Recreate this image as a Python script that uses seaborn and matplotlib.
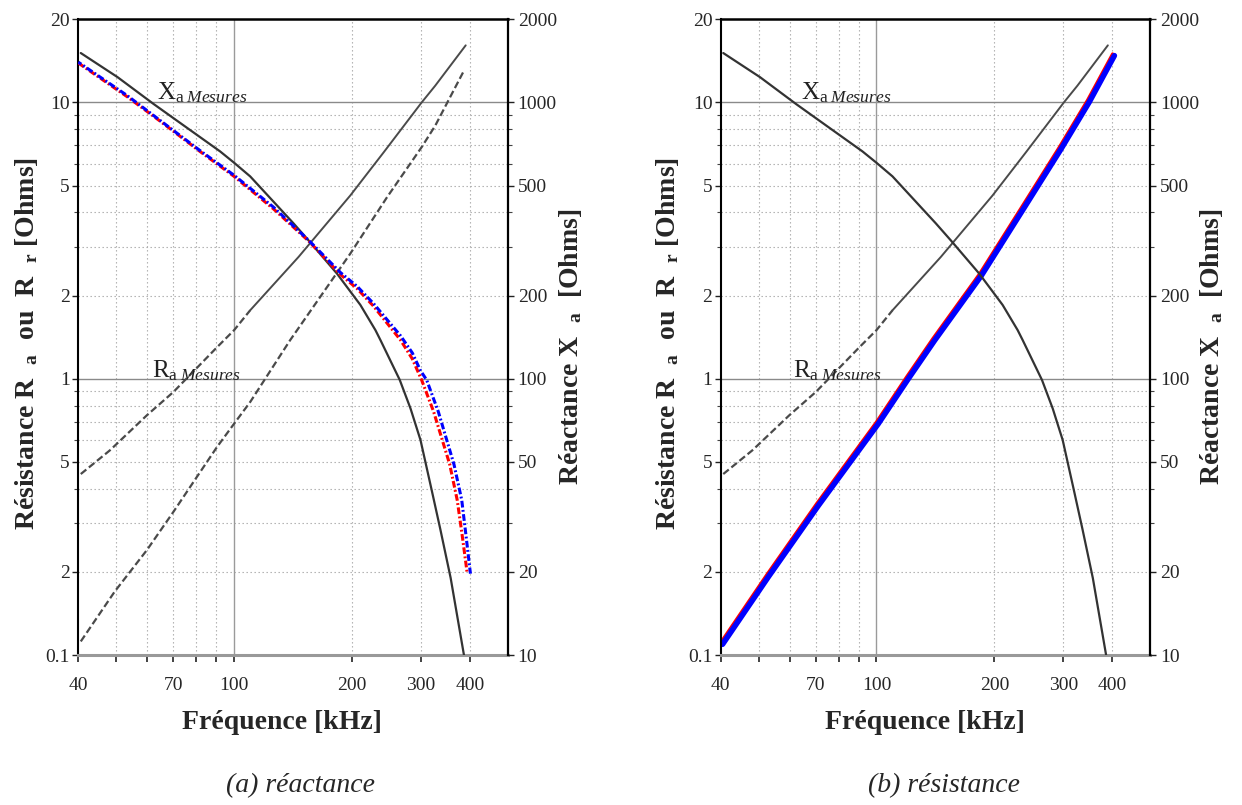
import pandas as pd
import seaborn as sns
import matplotlib.pyplot as plt
import matplotlib.ticker as ticker
from matplotlib.transforms import offset_copy

# ---- data ----
# measured reactance X_a (Ohms, right axis) - same background curve in both panels
freq_xa = [40.6, 50.4, 62.2, 70.6, 92.1, 100, 109.9, 141.8, 154.8, 183.1, 210, 229.4,
           236.3, 264.7, 282, 299, 320, 336, 357, 386]
xa_mes = [1510, 1235, 989, 870, 665, 605, 540, 365, 317, 240, 185, 150,
          138, 99, 78, 60, 39, 28.5, 19, 10]

# measured resistance R_a (Ohms, left axis): dashed part then solid part
freq_ra_dash = [40.6, 48.2, 59.9, 70.0, 90.4, 100, 109.9]
ra_dash = [0.452, 0.551, 0.738, 0.896, 1.30, 1.50, 1.77]
freq_ra_solid = [109.9, 146, 198, 241, 301, 326, 390]
ra_solid = [1.77, 2.76, 4.61, 6.61, 10.0, 11.5, 16.1]

# radiation resistance R_r (dashed, panel a)
freq_rr = [40.6, 49.6, 59.9, 70.0, 80.3, 90.4, 100, 109.9, 139, 198, 245.6, 301, 326, 385.6]
rr_mes = [0.112, 0.170, 0.240, 0.330, 0.441, 0.566, 0.688, 0.824, 1.38, 2.84, 4.54, 6.89, 8.24, 13.0]

# computed reactance (panel a), red and blue
freq_red = [40, 53.3, 64.8, 81.8, 100, 126, 155, 187, 206, 227, 266, 285, 301, 323, 355, 371, 381.5, 393.6]
x_red = [1390, 1050, 855, 665, 540, 412, 315, 238, 212, 183, 138, 118, 99, 76, 49, 36.4, 27.5, 19.7]
freq_blue = [40, 53.3, 64.8, 81.8, 100, 126, 155, 187, 206, 227, 266, 285, 299, 310, 332, 364, 381, 391, 401]
x_blue = [1400, 1060, 860, 670, 545, 418, 317, 242, 216, 187, 143, 124, 107, 99, 76, 49, 36.4, 26.8, 19.7]

# computed resistance (panel b)
freq_rc = [40, 52.4, 70.3, 100, 119.3, 139.4, 183.4, 232, 293, 346, 401]
r_calc = [0.111, 0.195, 0.353, 0.698, 1.015, 1.40, 2.40, 4.07, 6.89, 10.2, 15.0]

# axes ticks / labels
x_ticks = [40, 50, 60, 70, 80, 90, 100, 200, 300, 400]
x_ticklabels = ['40', '', '', '70', '', '', '100', '200', '300', '400']
y_ticks = [0.1, 0.2, 0.5, 1, 2, 5, 10, 20]
y_ticklabels = ['0.1', '2', '5', '1', '2', '5', '10', '20']
y_minor = [0.3, 0.4, 0.6, 0.7, 0.8, 0.9, 3, 4, 6, 7, 8, 9]
yr_ticks = [10, 20, 50, 100, 200, 500, 1000, 2000]
yr_minor = [30, 40, 60, 70, 80, 90, 300, 400, 600, 700, 800, 900]
grid_x_dot = [50, 60, 70, 80, 90, 200, 300, 400]
grid_x_solid = [100]
grid_y_dot = [0.2, 0.3, 0.4, 0.5, 0.6, 0.7, 0.8, 0.9, 2, 3, 4, 5, 6, 7, 8, 9]
grid_y_solid = [1, 10]

sns.set_theme(style='white')
plt.rcParams['font.family'] = ['Liberation Serif', 'DejaVu Serif']
plt.rcParams['mathtext.fontset'] = 'custom'
plt.rcParams['mathtext.rm'] = 'Liberation Serif'
plt.rcParams['mathtext.it'] = 'Liberation Serif:italic'
plt.rcParams['mathtext.bf'] = 'Liberation Serif:bold'

fig = plt.figure(figsize=(12.42, 8.05), dpi=100)


def setup_axes(rect):
    ax = fig.add_axes(rect)
    ax.set_xscale('log')
    ax.set_yscale('log')
    ax.set_xlim(40, 500)
    ax.set_ylim(0.1, 20)
    for v in grid_y_dot:
        ax.axhline(v, color='#a8a8a8', lw=0.8, ls=(0, (1.2, 2.4)), zorder=0)
    for v in grid_x_dot:
        ax.axvline(v, color='#a8a8a8', lw=0.8, ls=(0, (1.2, 2.4)), zorder=0)
    for v in grid_y_solid:
        ax.axhline(v, color='#8a8a8a', lw=1.0, zorder=0)
    for v in grid_x_solid:
        ax.axvline(v, color='#9a9a9a', lw=1.0, zorder=0)

    ax.xaxis.set_major_locator(ticker.FixedLocator(x_ticks))
    ax.xaxis.set_major_formatter(ticker.FixedFormatter(x_ticklabels))
    ax.xaxis.set_minor_locator(ticker.NullLocator())
    ax.yaxis.set_major_locator(ticker.FixedLocator(y_ticks))
    ax.yaxis.set_major_formatter(ticker.FixedFormatter(y_ticklabels))
    ax.yaxis.set_minor_locator(ticker.FixedLocator(y_minor))
    ax.yaxis.set_minor_formatter(ticker.NullFormatter())
    ax.tick_params(axis='x', which='major', bottom=True, direction='out', length=5,
                   width=1.2, color='#222', pad=11, labelsize=14)
    ax.tick_params(axis='y', which='major', left=True, direction='out', length=4,
                   width=1.0, color='#222', pad=2, labelsize=14)
    ax.tick_params(axis='y', which='minor', left=True, direction='out', length=3,
                   width=0.8, color='#444')
    for t in ax.xaxis.get_major_ticks():
        if t.get_loc() == 100:
            t.tick1line.set_markersize(10)
            t.label1.set_fontsize(16)

    ax.spines['top'].set_color('black')
    ax.spines['top'].set_linewidth(1.8)
    ax.spines['left'].set_color('black')
    ax.spines['left'].set_linewidth(1.5)
    ax.spines['bottom'].set_color('#999999')
    ax.spines['bottom'].set_linewidth(2.2)
    ax.spines['right'].set_visible(False)

    axr = ax.twinx()
    axr.set_yscale('log')
    axr.set_ylim(10, 2000)
    axr.yaxis.set_major_locator(ticker.FixedLocator(yr_ticks))
    axr.yaxis.set_major_formatter(ticker.FixedFormatter([str(v) for v in yr_ticks]))
    axr.yaxis.set_minor_locator(ticker.FixedLocator(yr_minor))
    axr.yaxis.set_minor_formatter(ticker.NullFormatter())
    axr.tick_params(axis='y', which='major', right=True, direction='out', length=4,
                    width=1.0, color='#222', pad=3, labelsize=14)
    axr.tick_params(axis='y', which='minor', right=True, direction='out', length=3,
                    width=0.8, color='#444')
    for s in ['top', 'bottom', 'left']:
        axr.spines[s].set_visible(False)
    axr.spines['right'].set_color('black')
    axr.spines['right'].set_linewidth(1.6)
    return ax, axr


rect_a = [0.0630, 0.1863, 0.3460, 0.7897]
rect_b = [0.5803, 0.1863, 0.3457, 0.7897]
ax_a, axr_a = setup_axes(rect_a)
ax_b, axr_b = setup_axes(rect_b)

dash_m = (3.2, 1.5)
for ax, axr in [(ax_a, axr_a), (ax_b, axr_b)]:
    sns.lineplot(x=freq_ra_dash, y=ra_dash, ax=ax, color='#4a4a4a', lw=1.6, legend=False)
    ax.lines[-1].set_dashes(dash_m)
    sns.lineplot(x=freq_ra_solid, y=ra_solid, ax=ax, color='#4a4a4a', lw=1.4, legend=False)
    sns.lineplot(x=freq_xa, y=xa_mes, ax=axr, color='#333333', lw=1.6, legend=False)

# panel (a): R_r dashed + computed reactance (red / blue dash-dot)
sns.lineplot(x=freq_rr, y=rr_mes, ax=ax_a, color='#4a4a4a', lw=1.6, legend=False)
ax_a.lines[-1].set_dashes(dash_m)
sns.lineplot(x=freq_red, y=x_red, ax=axr_a, color='#ff0000', lw=2.2, legend=False)
axr_a.lines[-1].set_dashes([2.2, 0.8, 0.6, 0.8])
sns.lineplot(x=freq_blue, y=x_blue, ax=axr_a, color='#0000ff', lw=2.2, legend=False)
axr_a.lines[-1].set_linestyle((1.0, [2.2, 0.8, 0.6, 0.8]))

# panel (b): computed resistance (red line, blue band)
sns.lineplot(x=freq_rc, y=r_calc, ax=ax_b, color='#ff0000', lw=2.2, legend=False)
sns.lineplot(x=freq_rc, y=r_calc, ax=ax_b, color='#0000ff', lw=4.0, legend=False)
ax_b.lines[-1].set_transform(offset_copy(ax_b.transData, fig=fig, x=1.8, y=-1.8, units='dots'))

# curve annotations
lbl_x = r'X$_{\mathrm{a}\;\mathit{Mesures}}$'
lbl_r = r'R$_{\mathrm{a}\;\mathit{Mesures}}$'
ax_a.text(63.7, 10.3, lbl_x, fontsize=18, color='#222')
ax_a.text(61.6, 1.015, lbl_r, fontsize=18, color='#222')
ax_b.text(64.0, 10.3, lbl_x, fontsize=18, color='#222')
ax_b.text(61.3, 1.015, lbl_r, fontsize=18, color='#222')

# axis titles
ylab_l = r'Résistance R  $_{\mathbf{a}}$  ou  R  $_{\mathbf{r}}$ [Ohms]'
ylab_r = r'Réactance X  $_{\mathbf{a}}$  [Ohms]'
for xl, xr, xc in [(0.0214, 0.4590, 0.2270), (0.5378, 0.9758, 0.7450)]:
    fig.text(xl, 0.5727, ylab_l, rotation=90, ha='center', va='center',
             fontsize=20, fontweight='bold')
    fig.text(xr, 0.5690, ylab_r, rotation=90, ha='center', va='center',
             fontsize=20, fontweight='bold')
    fig.text(xc, 0.1019, 'Fréquence [kHz]', ha='center', va='center',
             fontsize=20, fontweight='bold')

fig.text(0.242, 0.0236, '(a) réactance', ha='center', va='center', fontsize=20, style='italic')
fig.text(0.760, 0.0236, '(b) résistance', ha='center', va='center', fontsize=20, style='italic')

fig.savefig('out.png', dpi=100)
